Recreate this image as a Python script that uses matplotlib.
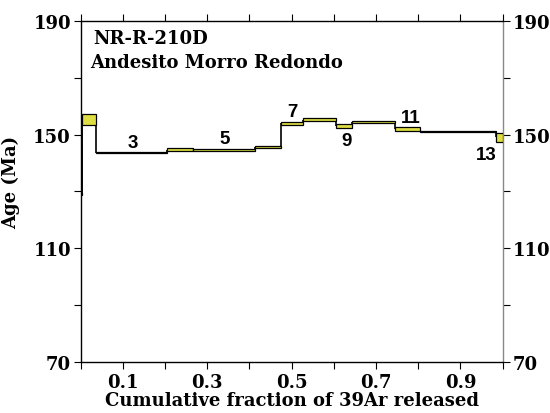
import matplotlib.pyplot as plt
import numpy as np

# step heating spectrum (cumulative 39Ar fraction edges, age, half-height of box)
frac_edges = [0.0, 0.003, 0.0372, 0.2038, 0.2654, 0.413, 0.4746, 0.5275,
              0.605, 0.642, 0.745, 0.804, 0.984, 1.0]
ages = [129.0, 155.35, 143.7, 144.7, 144.6, 145.6, 154.0, 155.3,
        153.0, 154.5, 152.0, 151.0, 149.0]
errs = [0.3, 1.85, 0.2, 0.5, 0.2, 0.45, 0.45, 0.55, 0.8, 0.4, 0.6, 0.2, 1.6]

# labels of the odd steps
step_labels = ["3", "5", "7", "9", "11", "13"]
label_x = [0.123, 0.342, 0.502, 0.629, 0.783, 0.962]
label_y = [147.1, 148.8, 158.2, 147.9, 155.9, 143.1]

xticks = np.arange(0, 1.01, 0.1)
xticklabels = ["", "0.1", "", "0.3", "", "0.5", "", "0.7", "", "0.9", ""]
yticks = [70, 90, 110, 130, 150, 170, 190]
yticklabels = ["70", "", "110", "", "150", "", "190"]

yellow = "#dede44"
serif = "DejaVu Serif"

fig = plt.figure(figsize=(5.5, 4.14), dpi=100)
ax = fig.add_axes([0.1467, 0.1232, 0.7673, 0.8237])

edges = np.array(frac_edges)
ages = np.array(ages)
errs = np.array(errs)
widths = edges[1:] - edges[:-1]

# vertical joins between steps
for i in range(len(ages) - 1):
    ax.vlines(edges[i + 1], ages[i], ages[i + 1], color="black", lw=1.2, zorder=2)
ax.vlines(0.0, ages[0], ages[1], color="black", lw=1.8, zorder=2)

ax.bar(edges[:-1], 2 * errs, width=widths, bottom=ages - errs, align="edge",
       color=yellow, edgecolor="black", lw=0.9, zorder=3)

for t, x, y in zip(step_labels, label_x, label_y):
    ax.text(x, y, t, ha="center", va="center", fontsize=13.5, fontweight="bold",
            family="Liberation Sans")

ax.text(0.029, 184.0, "NR-R-210D", fontsize=13, fontweight="bold", family=serif,
        va="center")
ax.text(0.022, 175.6, "Andesito Morro Redondo", fontsize=13, fontweight="bold",
        family=serif, va="center")

ax.set_xlim(0, 1.0)
ax.set_ylim(70, 190)
ax.set_xticks(xticks)
ax.set_xticklabels(xticklabels, fontsize=13, fontweight="bold", family=serif)
ax.set_yticks(yticks)
ax.set_yticklabels(yticklabels, fontsize=13, fontweight="bold", family=serif)
ax.tick_params(direction="out", length=5, width=0.8, top=True, right=True,
               labelright=True, pad=2)
ax.tick_params(axis="x", pad=3)

ax.spines["right"].set_color("#888888")
for s in ax.spines.values():
    s.set_linewidth(1.0)

ax.set_xlabel("Cumulative fraction of 39Ar released", fontsize=13,
              fontweight="bold", family=serif, labelpad=0)
ax.set_ylabel("Age (Ma)", fontsize=13, fontweight="bold", family=serif)
ax.yaxis.set_label_coords(-0.144, 0.529)

plt.savefig("out.png", dpi=100)
